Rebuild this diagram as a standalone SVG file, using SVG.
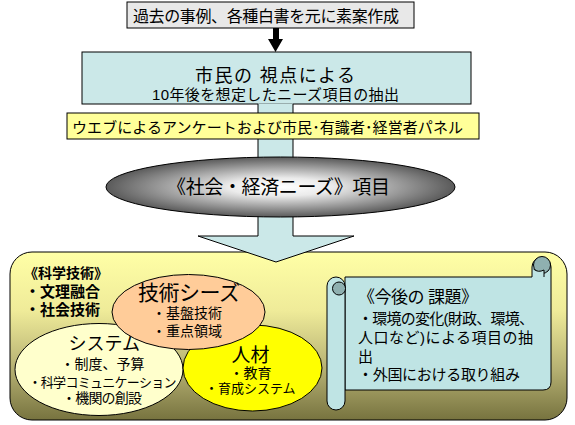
<svg xmlns="http://www.w3.org/2000/svg" width="575" height="425" viewBox="0 0 575 425">
<defs>
<linearGradient id="gBig" x1="0" y1="0" x2="0" y2="1">
<stop offset="0" stop-color="#ffffa6"/>
<stop offset="0.35" stop-color="#efeb99"/>
<stop offset="0.7" stop-color="#b5b072"/>
<stop offset="1" stop-color="#77733f"/>
</linearGradient>
<radialGradient id="gEll" cx="0.5" cy="0.5" r="0.5">
<stop offset="0" stop-color="#ffffff"/>
<stop offset="0.3" stop-color="#ebebeb"/>
<stop offset="1" stop-color="#5a5a5a"/>
</radialGradient>
<style>
.t{font-family:"Liberation Sans","Noto Sans CJK JP",sans-serif;fill:#000}
.b{font-weight:bold}
.ln{stroke:#000;stroke-width:1}
.cy{fill:#cbe8e8}
.sc{fill:#bfe4e4;stroke:#000;stroke-width:1}
.dk{fill:#8fb0b0;stroke:#000;stroke-width:1}
</style>
</defs>

<g id="panel">
<rect x="10" y="252" width="557" height="168" rx="22" fill="url(#gBig)" class="ln"/>
</g>

<g id="source">
<rect x="127" y="2" width="287" height="26" fill="#e8e8e8" class="ln"/>
<text class="t" x="133" y="22" font-size="16" textLength="266">過去の事例、各種白書を元に素案作成</text>
</g>

<g id="citizen">
<rect x="82" y="52" width="389" height="52" class="cy ln"/>
<text class="t" x="195" y="82" font-size="18" textLength="160">市民の 視点による</text>
<text class="t" x="152" y="100" font-size="15" textLength="247">10年後を想定したニーズ項目の抽出</text>
</g>

<g id="connectors">
<polygon points="273,28 279,28 279,39 283,39 275.5,52 268,39 273,39" fill="#000"/>
<polygon points="258,103.5 293,103.5 293,236 354,236 276,262 198,236 258,236" class="cy"/>
<polyline points="258,104 258,236 198,236 276,262 354,236 293,236 293,104" fill="none" class="ln"/>
</g>

<g id="web">
<rect x="67" y="113" width="412" height="26" fill="#ffff99" class="ln"/>
<text class="t" x="72" y="133" font-size="15" textLength="391">ウエブによるアンケートおよび市民･有識者･経営者パネル</text>
</g>

<g id="needs">
<ellipse cx="280.5" cy="187" rx="174.5" ry="30" fill="url(#gEll)" class="ln"/>
<text class="t" x="167" y="194" font-size="19" textLength="223">《社会・経済ニーズ》項目</text>
</g>

<g id="science">
<text class="t b" x="24" y="278" font-size="14" textLength="84">《科学技術》</text>
<text class="t b" x="25" y="297" font-size="15">・文理融合</text>
<text class="t b" x="25" y="315" font-size="15">・社会技術</text>
</g>

<g id="system">
<ellipse cx="99" cy="369.5" rx="84" ry="46" fill="#ffffcc" class="ln"/>
<text class="t" x="68.5" y="350" font-size="18">システム</text>
<text class="t" x="60.5" y="369" font-size="14">・制度、予算</text>
<text class="t" x="28.5" y="387" font-size="13" textLength="148">・科学コミュニケーション</text>
<text class="t" x="62" y="403" font-size="14" textLength="80">・機関の創設</text>
</g>

<g id="jinzai">
<ellipse cx="252.5" cy="368" rx="69.5" ry="43" fill="#ffff00" class="ln"/>
<text class="t" x="231.5" y="362" font-size="19">人材</text>
<text class="t" x="229.5" y="378" font-size="14">・教育</text>
<text class="t" x="205" y="393" font-size="13">・育成システム</text>
</g>

<g id="seeds">
<ellipse cx="188.5" cy="312" rx="76.5" ry="37.5" fill="#ffcc99" class="ln"/>
<text class="t" x="138" y="300" font-size="21" textLength="102">技術シーズ</text>
<text class="t" x="152" y="318" font-size="14">・基盤技術</text>
<text class="t" x="152" y="336" font-size="14">・重点領域</text>
</g>

<g id="issues">
<path d="M345 277 H532 V267 A9.5 9.5 0 0 1 551 267 V382 Q551 390 543 390 H345 Z" class="sc"/>
<circle cx="542" cy="265" r="8.5" class="dk"/>
<path d="M533.5 277 V269 Q538 273 544 270 V277 Z" fill="#bfe4e4"/>
<path d="M533.5 269 Q538 273 544 270 V277" fill="none" class="ln"/>
<path d="M327 286 A9 9 0 0 1 345 286 V401 A9 9 0 0 1 327 401 Z" class="sc"/>
<circle cx="339" cy="288.5" r="6.5" class="dk"/>
<text class="t" x="358" y="303" font-size="17" textLength="120">《今後の 課題》</text>
<text class="t" x="358" y="324" font-size="15" textLength="176">・環境の変化(財政、環境、</text>
<text class="t" x="358" y="343" font-size="15" textLength="175">人口など)による項目の抽</text>
<text class="t" x="358" y="362" font-size="15">出</text>
<text class="t" x="358" y="380" font-size="15" textLength="162">・外国における取り組み</text>
</g>
</svg>
